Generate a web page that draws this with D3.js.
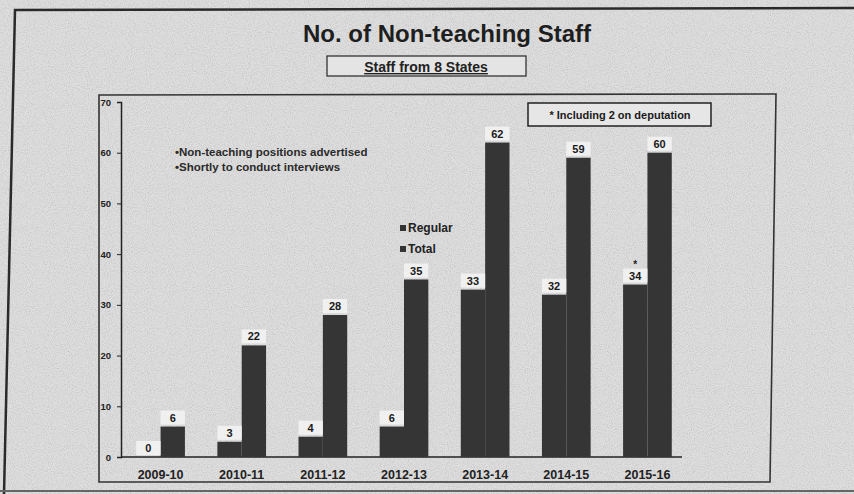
<!DOCTYPE html>
<html><head><meta charset="utf-8">
<script src="https://cdn.jsdelivr.net/npm/d3@7/dist/d3.min.js"></script>
<style>html,body{margin:0;padding:0;background:#dadada;}svg{display:block;}text{font-family:"Liberation Sans",Arial,sans-serif;}</style>
</head><body>
<svg id="c" width="854" height="494"></svg>
<script>
const categories = ["2009-10","2010-11","2011-12","2012-13","2013-14","2014-15","2015-16"];
const regular = [0, 3, 4, 6, 33, 32, 34];
const total = [6, 22, 28, 35, 62, 59, 60];
const regularLabels = ["0","3","4","6","33","32","34"];
const yTicks = [0,10,20,30,40,50,60,70];
const seriesNames = ["Regular","Total"];
const notes = ["\u2022Non-teaching positions advertised","\u2022Shortly to conduct interviews"];
const footnote = "* Including 2 on deputation";
const title = "No. of Non-teaching Staff";
const subtitle = "Staff from 8 States";

const svg = d3.select("#c");
const defs = svg.append("defs");
const f = defs.append("filter").attr("id","noise").attr("x",0).attr("y",0).attr("width","100%").attr("height","100%");
f.append("feTurbulence").attr("type","fractalNoise").attr("baseFrequency",0.95).attr("numOctaves",2).attr("seed",3).attr("result","t");
f.append("feColorMatrix").attr("in","t").attr("type","matrix")
 .attr("values","0 0 0 0 0.4  0 0 0 0 0.4  0 0 0 0 0.4  0 0 0 1.1 -0.45").attr("result","n");
f.append("feComposite").attr("in","n").attr("in2","SourceGraphic").attr("operator","in").attr("result","m");
f.append("feMerge").call(s=>{s.append("feMergeNode").attr("in","SourceGraphic");s.append("feMergeNode").attr("in","m");});

svg.append("rect").attr("width",854).attr("height",494).attr("fill","#dedede").attr("filter","url(#noise)");

// outer frame
svg.append("path").attr("d","M4,494 L15,10 L854,8").attr("fill","none").attr("stroke","#2a2a2a").attr("stroke-width",2.5);
svg.append("line").attr("x1",0).attr("x2",854).attr("y1",491).attr("y2",491).attr("stroke","#666").attr("stroke-width",2);

// inner chart box
svg.append("path").attr("d","M99,95 L776,94 L770,482 L99,482 Z").attr("fill","none").attr("stroke","#333").attr("stroke-width",1.6);

// title
svg.append("text").attr("x",447).attr("y",42).attr("text-anchor","middle").attr("font-size",24).attr("font-weight","bold").attr("fill","#1e1e1e").text(title);
svg.append("rect").attr("x",327).attr("y",56).attr("width",199).attr("height",20).attr("fill","#e4e4e4").attr("stroke","#333").attr("stroke-width",1.3);
svg.append("text").attr("x",426).attr("y",72).attr("text-anchor","middle").attr("font-size",14).attr("font-weight","bold").attr("fill","#222").attr("text-decoration","underline").text(subtitle);

const x0 = d3.scaleBand().domain(categories).range([120,688]).paddingInner(0.4).paddingOuter(0.2);
const x1 = d3.scaleBand().domain(seriesNames).range([0,x0.bandwidth()]);
const y = d3.scaleLinear().domain([0,70]).range([457,102]);

// axes
const ya = svg.append("g").attr("transform","translate(121,0)").call(d3.axisLeft(y).tickValues(yTicks).tickSize(4).tickPadding(6));
ya.select(".domain").attr("stroke","#222").attr("stroke-width",1.5);
ya.selectAll("line").attr("stroke","#222");
ya.selectAll("text").attr("font-size",9.5).attr("font-weight","bold").attr("fill","#222").attr("font-family","Liberation Sans,Arial");

svg.append("line").attr("x1",121).attr("x2",682).attr("y1",y(0)).attr("y2",y(0)).attr("stroke","#222").attr("stroke-width",1.5);
const xa = svg.append("g").attr("transform","translate(0,"+y(0)+")").call(d3.axisBottom(x0).tickSize(0).tickPadding(13));
xa.select(".domain").remove();
xa.selectAll("text").attr("font-size",12.5).attr("font-weight","bold").attr("fill","#222").attr("font-family","Liberation Serif,Times New Roman,serif");

// bars
const rows = categories.map((c,i)=>({c, vals:[{k:"Regular",v:regular[i],lab:regularLabels[i]},{k:"Total",v:total[i],lab:String(total[i])}]}));
const g = svg.selectAll(".grp").data(rows).join("g").attr("transform",d=>"translate("+x0(d.c)+",0)");
g.selectAll("rect.bar").data(d=>d.vals).join("rect").attr("class","bar")
 .attr("x",d=>x1(d.k)).attr("width",x1.bandwidth()).attr("y",d=>y(d.v)).attr("height",d=>y(0)-y(d.v))
 .attr("fill","#353535");
g.selectAll("rect.lb").data(d=>d.vals).join("rect").attr("class","lb")
 .attr("x",d=>x1(d.k)).attr("width",x1.bandwidth()).attr("y",d=>y(d.v)-16).attr("height",14)
 .attr("fill","#f0f0f0");
g.selectAll("text.lab").data(d=>d.vals).join("text").attr("class","lab")
 .attr("x",d=>x1(d.k)+x1.bandwidth()/2).attr("y",d=>y(d.v)-5).attr("text-anchor","middle")
 .attr("font-size",11).attr("font-weight","bold").attr("fill","#1a1a1a").text(d=>d.lab);
// asterisk on last regular
svg.append("text").attr("x",x0(categories[6])+x1("Regular")+x1.bandwidth()/2).attr("y",y(regular[6])-17)
 .attr("text-anchor","middle").attr("font-size",10).attr("font-weight","bold").attr("fill","#1a1a1a").text("*");

// legend
const lg = svg.append("g").attr("transform","translate(400,232)");
seriesNames.forEach((s,i)=>{
  lg.append("rect").attr("x",0).attr("y",i*21-7).attr("width",6).attr("height",6).attr("fill","#333");
  lg.append("text").attr("x",8).attr("y",i*21).attr("font-size",12).attr("font-weight","bold").attr("fill","#222").text(s);
});

// notes
notes.forEach((t,i)=>{
  svg.append("text").attr("x",175).attr("y",156+i*15).attr("font-size",11.5).attr("font-weight","bold").attr("fill","#2a2a2a").text(t);
});

// footnote box
svg.append("rect").attr("x",528).attr("y",103).attr("width",183).attr("height",23).attr("fill","#e6e6e6").attr("stroke","#222").attr("stroke-width",1.5);
svg.append("text").attr("x",620).attr("y",119).attr("text-anchor","middle").attr("font-size",11).attr("font-weight","bold").attr("fill","#1a1a1a").text(footnote);
</script>
</body></html>
